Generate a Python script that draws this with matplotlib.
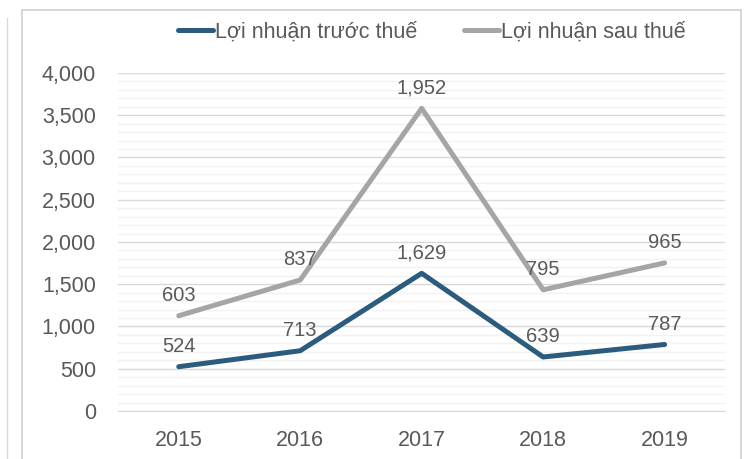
import matplotlib.pyplot as plt
from matplotlib.ticker import MultipleLocator, FuncFormatter
from matplotlib.patches import Rectangle

# ===== DATA =====
YEARS = ["2015", "2016", "2017", "2018", "2019"]
TRUOC_THUE = [524, 713, 1629, 639, 787]   # Lợi nhuận trước thuế
SAU_THUE = [603, 837, 1952, 795, 965]     # Lợi nhuận sau thuế (stacked on top)

BLUE = "#2B5C7D"
GREY = "#A5A5A5"
TXT = "#595959"
FS = 15.5

plt.rcParams["font.family"] = ["Liberation Sans", "DejaVu Sans"]

fig = plt.figure(figsize=(7.47, 4.59), dpi=100)
ax = fig.add_axes([0.158, 0.1046, 0.813, 0.7365])

x = list(range(len(YEARS)))
stacked = [a + b for a, b in zip(TRUOC_THUE, SAU_THUE)]

ax.plot(x, TRUOC_THUE, color=BLUE, lw=3.6, solid_capstyle="round",
        label="Lợi nhuận trước thuế", zorder=3)
ax.plot(x, stacked, color=GREY, lw=3.6, solid_capstyle="round",
        label="Lợi nhuận sau thuế", zorder=3)

for xi, v in zip(x, TRUOC_THUE):
    ax.annotate(f"{v:,}", (xi, v), xytext=(0, 14.5), textcoords="offset points",
                ha="center", va="center", fontsize=FS - 1, color=TXT)
for xi, v, s in zip(x, SAU_THUE, stacked):
    ax.annotate(f"{v:,}", (xi, s), xytext=(0, 14.5), textcoords="offset points",
                ha="center", va="center", fontsize=FS - 1, color=TXT)

ax.set_xlim(-0.5, len(YEARS) - 0.5)
ax.set_ylim(0, 4000)
ax.set_xticks(x)
ax.set_xticklabels(YEARS)
ax.yaxis.set_major_locator(MultipleLocator(500))
ax.yaxis.set_minor_locator(MultipleLocator(100))
ax.yaxis.set_major_formatter(FuncFormatter(lambda v, p: f"{int(v):,}"))
ax.grid(axis="y", which="major", color="#D9D9D9", lw=1)
ax.grid(axis="y", which="minor", color="#F2F2F2", lw=1)
ax.set_axisbelow(True)
for s in ["top", "right", "left"]:
    ax.spines[s].set_visible(False)
ax.spines["bottom"].set_color("#D9D9D9")
ax.tick_params(axis="both", which="both", length=0, labelsize=FS, colors=TXT)
ax.tick_params(axis="x", pad=14)
ax.tick_params(axis="y", pad=16)

leg = ax.legend(loc="center", bbox_to_anchor=(0.517, 1.12), ncol=2, frameon=False,
                fontsize=FS, handlelength=1.6, handletextpad=0.1, columnspacing=2.2,
                borderpad=0)
for t in leg.get_texts():
    t.set_color(TXT)

# chart frame
fig.add_artist(Rectangle((22 / 747, -0.01), 719 / 747, 1 - 10 / 459 + 0.01,
                         transform=fig.transFigure, fill=False,
                         edgecolor="#D0D0D0", lw=1.2))
fig.add_artist(plt.Line2D([7 / 747, 7 / 747], [0, 1 - 18 / 459],
                          transform=fig.transFigure, color="#D9D9D9", lw=1))

fig.savefig("out.png", dpi=100)
